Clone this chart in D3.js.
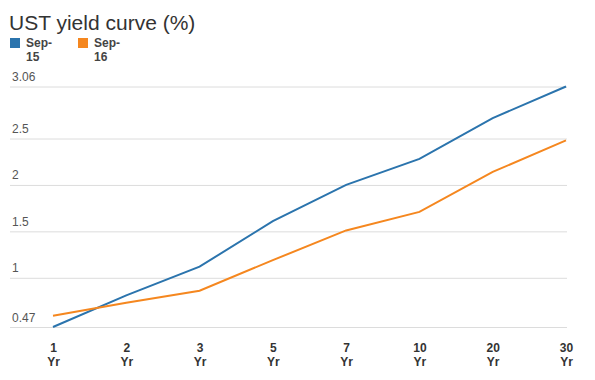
<!DOCTYPE html>
<html>
<head>
<meta charset="utf-8">
<script src="https://cdn.jsdelivr.net/npm/d3@7"></script>
<style>
  body { margin: 0; background: #fff; }
  text { font-family: "Liberation Sans", Arial, sans-serif; }
</style>
</head>
<body>
<div id="chart"></div>
<script>
// chart data
var tenors = ["1 Yr", "2 Yr", "3 Yr", "5 Yr", "7 Yr", "10 Yr", "20 Yr", "30 Yr"];
var sep15 = [0.47, 0.81, 1.12, 1.61, 2.00, 2.28, 2.72, 3.06];
var sep16 = [0.59, 0.73, 0.86, 1.19, 1.51, 1.71, 2.14, 2.48];
var yTicks = [0.47, 1, 1.5, 2, 2.5, 3.06];
var seriesNames = ["Sep-15", "Sep-16"];
var colors = ["#2b74ad", "#f5871f"];

var svgWidth = 595;
var svgHeight = 380;

var svg = d3.select("#chart")
  .append("svg")
  .attr("width", svgWidth)
  .attr("height", svgHeight);

// scales
var xScale = d3.scalePoint()
  .domain(tenors)
  .range([53, 566]);

var yScale = d3.scaleLinear()
  .domain([0.47, 3.06])
  .range([327, 86.5]);

// title
svg.append("text")
  .attr("x", 9)
  .attr("y", 30)
  .style("font-size", "21px")
  .attr("fill", "#333")
  .text("UST yield curve (%)");

// legend
var legend = svg.append("g");
seriesNames.forEach(function(name, i) {
  var g = legend.append("g")
    .attr("transform", `translate(${10 + i * 68}, 38)`);
  g.append("rect")
    .attr("width", 10)
    .attr("height", 10)
    .attr("fill", colors[i]);
  var parts = name.split("-");
  g.append("text")
    .attr("x", 16)
    .attr("y", 9)
    .style("font-size", "12px")
    .style("font-weight", "bold")
    .attr("fill", "#444")
    .text(parts[0] + "-");
  g.append("text")
    .attr("x", 16)
    .attr("y", 23)
    .style("font-size", "12px")
    .style("font-weight", "bold")
    .attr("fill", "#444")
    .text(parts[1]);
});

// gridlines + y labels
var yAxis = d3.axisLeft(yScale)
  .tickValues(yTicks)
  .tickSize(-557)
  .tickFormat(d3.format(""));

var yAxisG = svg.append("g")
  .attr("transform", "translate(10, 0)")
  .call(yAxis);
yAxisG.select(".domain").remove();
yAxisG.selectAll("line").attr("stroke", "#dcdcdc");
yAxisG.selectAll("text")
  .attr("x", 2)
  .attr("dy", -6)
  .attr("text-anchor", "start")
  .style("font-size", "12px")
  .style("font-family", "'Liberation Sans', Arial, sans-serif")
  .attr("fill", "#555");

// x labels
var xAxis = d3.axisBottom(xScale).tickSize(0);
var xAxisG = svg.append("g")
  .attr("transform", "translate(0, 340)")
  .call(xAxis);
xAxisG.select(".domain").remove();
xAxisG.selectAll("text").each(function(d) {
  var t = d3.select(this);
  var parts = d.split(" ");
  t.text(null)
    .attr("y", 0)
    .attr("dy", null)
    .style("font-size", "12px")
    .style("font-weight", "bold")
    .style("font-family", "'Liberation Sans', Arial, sans-serif")
    .attr("fill", "#333");
  t.append("tspan").attr("x", 0).attr("y", 12).text(parts[0]);
  t.append("tspan").attr("x", 0).attr("y", 26).text(parts[1]);
});

// lines
var line = d3.line()
  .x((d, i) => xScale(tenors[i]))
  .y(d => yScale(d));

[sep15, sep16].forEach(function(values, i) {
  svg.append("path")
    .datum(values)
    .attr("fill", "none")
    .attr("stroke", colors[i])
    .attr("stroke-width", 2)
    .attr("d", line);
});
</script>
</body>
</html>
